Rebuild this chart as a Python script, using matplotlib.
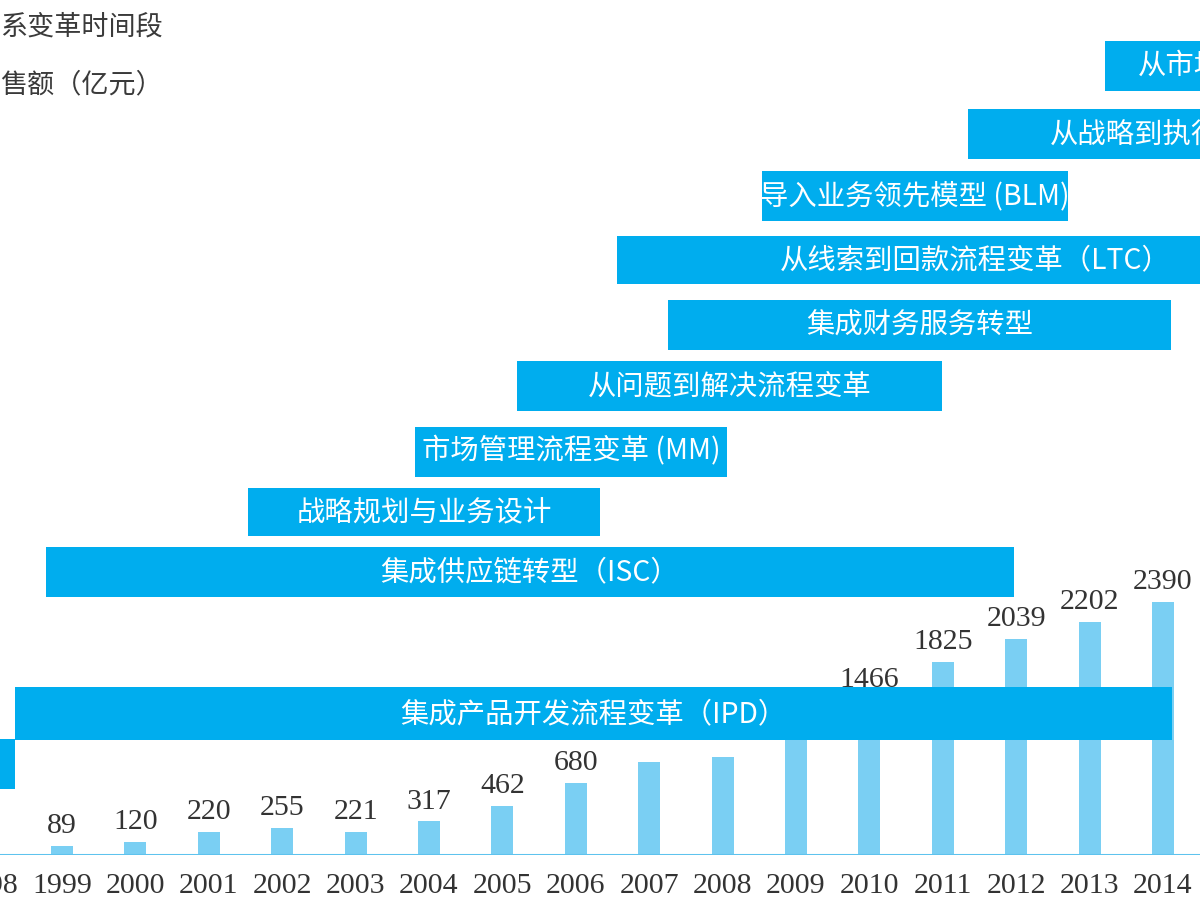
import matplotlib
matplotlib.use("Agg")
import matplotlib.pyplot as plt

plt.rcParams['font.family'] = ['Noto Sans CJK SC', 'DejaVu Sans']

# ---- data ----
tick_years = list(range(1998, 2015))
bar_years = list(range(1999, 2015))
sales = [89, 120, 220, 255, 221, 317, 462, 680, 880, 925, 1250, 1466, 1825, 2039, 2202, 2390]
show_label = [True, True, True, True, True, True, True, True, False, False, False,
              True, True, True, True, True]

band_names = ["从市场到线索（MTL）", "从战略到执行（DSTE）", "导入业务领先模型 (BLM)",
              "从线索到回款流程变革（LTC）", "集成财务服务转型", "从问题到解决流程变革",
              "市场管理流程变革 (MM)", "战略规划与业务设计", "集成供应链转型（ISC）",
              "集成产品开发流程变革（IPD）", ""]
band_start = [2013.21, 2011.34, 2008.54, 2006.56, 2007.26, 2005.20, 2003.81, 2001.53,
              1998.78, 1998.36, 1995.0]
band_end = [2017.95, 2017.61, 2012.71, 2016.32, 2014.11, 2010.99, 2008.06, 2006.33,
            2011.97, 2014.12, 1998.36]
band_lane = [12.52, 11.44, 10.46, 9.44, 8.41, 7.44, 6.40, 5.44, 4.49, 2.24, 1.44]
band_height = [0.79, 0.79, 0.79, 0.76, 0.79, 0.79, 0.79, 0.76, 0.79, 0.84, 0.79]

legend_lines = ["系变革时间段", "售额（亿元）"]

# ---- style ----
BAND_C = "#00ADEE"
BAR_C = "#7ACFF3"
BASE_C = "#5EC3EE"
TXT_C = "#333333"

W, H = 1200, 900
fig = plt.figure(figsize=(12, 9), dpi=100)
base_px = 45  # baseline pixel height from bottom
ax = fig.add_axes([0, base_px / H, 1, 1 - base_px / H])
px_per_year = 73.4
x0_year = 1999 - 62 / px_per_year
XLIM = (x0_year, x0_year + W / px_per_year)
ax.set_xlim(*XLIM)
ax.set_ylim(0, (H - base_px) / 0.10573)

ax.bar(bar_years, sales, width=0.3, color=BAR_C, zorder=2)
for yr, v, s in zip(bar_years, sales, show_label):
    if s:
        ax.annotate(str(v), (yr, v), xytext=(0, 5), textcoords="offset points",
                    ha="center", va="bottom", fontsize=21.5,
                    family="Liberation Serif", color=TXT_C)

ax.axhline(0, color=BASE_C, lw=2.2, zorder=3)
ax.set_xticks([])
ax.set_yticks([])
for sp in ax.spines.values():
    sp.set_visible(False)
# year labels (drawn as annotations so the partly visible 1998 shows too)
for yr in tick_years:
    ax.annotate(str(yr), xy=(yr, 0), xycoords=("data", "axes fraction"),
                xytext=(0, -31), textcoords="offset pixels", ha="center",
                va="center", fontsize=21.5, family="Liberation Serif",
                color=TXT_C, annotation_clip=False)

# bands on top
ax2 = ax.twinx()
ax2.set_ylim(0, (H - base_px) / 63)
ax2.set_yticks([])
for sp in ax2.spines.values():
    sp.set_visible(False)
widths = [e - s for s, e in zip(band_start, band_end)]
ax2.barh(band_lane, widths, left=band_start, height=band_height, color=BAND_C, zorder=4)
for name, s, e, ln in zip(band_names, band_start, band_end, band_lane):
    if name:
        ax2.text((s + e) / 2, ln, name, ha="center", va="center", fontsize=20.4,
                 color="white", zorder=5, clip_on=True)
ax.set_xlim(*XLIM)
ax2.set_xlim(*XLIM)
ax2.set_ylim(0, (H - base_px) / 63)

# partial legend texts at top-left
fig.text(163 / W, 1 - 27 / H, legend_lines[0], ha="right", va="center",
         fontsize=19.5, color="#3a3a3a", fontweight="light")
fig.text(163 / W, 1 - 85 / H, legend_lines[1], ha="right", va="center",
         fontsize=19.5, color="#3a3a3a", fontweight="light")

fig.savefig("out.png", dpi=100)
